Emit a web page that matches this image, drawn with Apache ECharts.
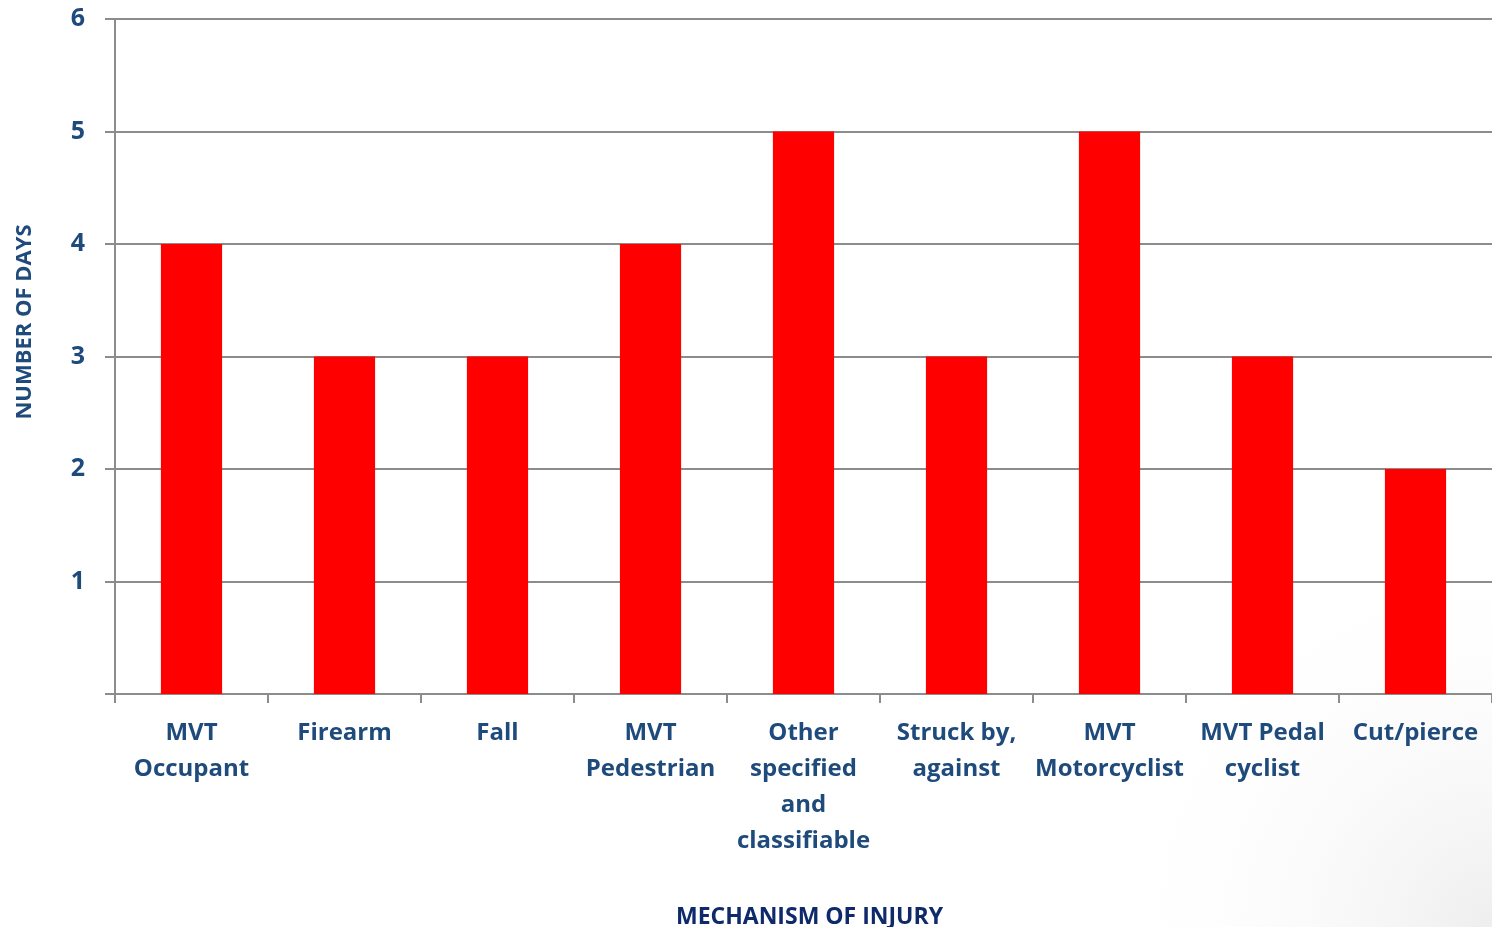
<!DOCTYPE html>
<html>
<head>
<meta charset="utf-8">
<script src="https://cdn.jsdelivr.net/npm/echarts@6/dist/echarts.min.js"></script>
<style>
html,body{margin:0;padding:0;background:#fff;overflow:hidden;}
#chart{position:absolute;left:0;top:0;width:1492px;height:927px;}
</style>
</head>
<body>
<div id="chart"></div>
<script>
const categories = ['MVT\nOccupant', 'Firearm', 'Fall', 'MVT\nPedestrian', 'Other\nspecified\nand\nclassifiable', 'Struck by,\nagainst', 'MVT\nMotorcyclist', 'MVT Pedal\ncyclist', 'Cut/pierce'];
const days = [4, 3, 3, 4, 5, 3, 5, 3, 2];
const yTicks = [0, 1, 2, 3, 4, 5, 6];

const chart = echarts.init(document.getElementById('chart'), null, {renderer: 'canvas', width: 1492, height: 927});
const labelColor = '#1f4a7c';
const titleColor = '#0e2a6a';
const font = '"Open Sans", Lato, sans-serif';
chart.setOption({
  backgroundColor: '#ffffff',
  animation: false,
  grid: {left: 115, right: 0, top: 19, height: 675, containLabel: false, outerBoundsMode: 'none'},
  xAxis: {
    type: 'category',
    data: categories,
    name: 'MECHANISM OF INJURY',
    nameLocation: 'middle',
    nameGap: 212,
    nameTextStyle: {color: titleColor, fontSize: 23, fontWeight: 'bold', fontFamily: font, padding: [0, 0, 0, 12]},
    axisLine: {lineStyle: {color: '#8c8c8c', width: 2}},
    axisTick: {show: true, interval: 0, length: 9, lineStyle: {color: '#8c8c8c', width: 2}},
    axisLabel: {interval: 0, color: labelColor, fontSize: 24, fontWeight: 'bold', fontFamily: font, lineHeight: 36, margin: 21}
  },
  yAxis: {
    type: 'value',
    min: yTicks[0], max: yTicks[yTicks.length - 1], interval: 1,
    axisLine: {show: true, lineStyle: {color: '#8c8c8c', width: 2}},
    axisTick: {show: true, length: 10, lineStyle: {color: '#8c8c8c', width: 2}},
    splitLine: {show: true, lineStyle: {color: '#8c8c8c', width: 2}},
    axisLabel: {
      color: labelColor, fontSize: 25, fontWeight: 'bold', fontFamily: font, margin: 30,
      formatter: v => v === 0 ? '' : String(v)
    }
  },
  graphic: [{
    type: 'text',
    x: 14, y: 322,
    rotation: Math.PI / 2,
    style: {
      text: 'NUMBER OF DAYS', fill: labelColor, font: 'bold 22px ' + font,
      textAlign: 'center', textVerticalAlign: 'top'
    }
  }, {
    type: 'rect', z: -10, silent: true,
    shape: {x: 1100, y: 500, width: 392, height: 427},
    style: {fill: {type: 'radial', x: 1, y: 1, r: 1, colorStops: [{offset: 0, color: '#eeeeee'}, {offset: 1, color: 'rgba(255,255,255,0)'}]}}
  }],
  series: [{
    type: 'bar',
    data: days,
    barWidth: '40%',
    itemStyle: {color: '#ff0000'}
  }]
});
</script>
</body>
</html>
